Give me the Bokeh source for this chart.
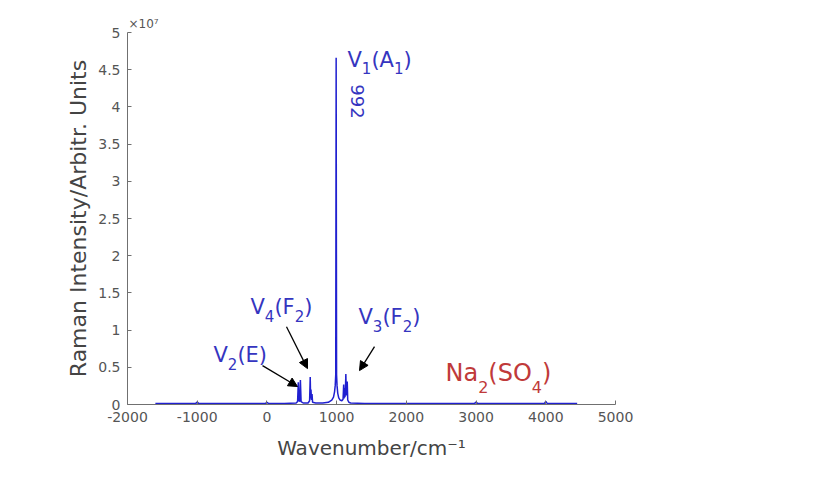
import math
from bokeh.plotting import figure
from bokeh.models import Range1d, FixedTicker, NumeralTickFormatter, Label, Arrow, NormalHead
from bokeh.embed import file_html
from bokeh.resources import INLINE

# ---------------- data (intensity in units of 1e7) ----------------
wavenumber = [-1600, -1300, -1020, -1000, -980, -700, -400, -20, 0, 20, 250,
              420, 440, 450, 458, 470, 480, 490, 520,
              590, 612, 621, 627, 632, 639, 647, 655, 700,
              800, 880, 930, 955, 970, 980, 987, 993, 999, 1006, 1016, 1030, 1050, 1075,
              1092, 1101, 1107, 1113, 1119, 1125, 1132, 1139, 1146, 1152, 1159, 1175, 1200,
              1400, 1800, 2200, 2600, 2980, 3000, 3020, 3400, 3800, 3980, 4000, 4020, 4250, 4450]
intensity = [0.015, 0.015, 0.015, 0.035, 0.015, 0.015, 0.015, 0.015, 0.03, 0.015, 0.015,
             0.02, 0.04, 0.30, 0.05, 0.04, 0.33, 0.04, 0.02,
             0.02, 0.05, 0.37, 0.08, 0.20, 0.06, 0.14, 0.03, 0.02,
             0.02, 0.03, 0.06, 0.10, 0.17, 0.26, 0.40, 4.66, 0.40, 0.25, 0.15, 0.09, 0.06, 0.05,
             0.07, 0.27, 0.08, 0.22, 0.10, 0.16, 0.41, 0.12, 0.22, 0.31, 0.06, 0.03, 0.02,
             0.015, 0.015, 0.015, 0.015, 0.015, 0.035, 0.015, 0.015, 0.015, 0.015, 0.04, 0.015, 0.015, 0.015]

x_ticks = [-2000, -1000, 0, 1000, 2000, 3000, 4000, 5000]
y_ticks = [0, 0.5, 1, 1.5, 2, 2.5, 3, 3.5, 4, 4.5, 5]

# annotation labels: lists of (text, is_subscript) pieces
v1_label = [("V", False), ("1", True), ("(A", False), ("1", True), (")", False)]
v4_label = [("V", False), ("4", True), ("(F", False), ("2", True), (")", False)]
v3_label = [("V", False), ("3", True), ("(F", False), ("2", True), (")", False)]
v2_label = [("V", False), ("2", True), ("(E", False), (")", False)]
peak_main = "992"
sample_label = [("Na", False), ("2", True), ("(SO", False), ("4", True), (")", False)]
exponent_text = "\u00d710\u2077"

# ---------------- figure ----------------
W, H = 804, 462
FL, FT = 127, 32
FR, FB = W - 615, H - 405
X0, X1, Y0, Y1 = -2000, 5000, 0, 5

p = figure(width=W, height=H, x_range=Range1d(X0, X1), y_range=Range1d(Y0, Y1),
           output_backend="svg", toolbar_location=None,
           min_border_left=FL, min_border_right=FR, min_border_top=FT, min_border_bottom=FB)
p.outline_line_color = None
p.grid.visible = False
p.background_fill_color = "white"
p.border_fill_color = "white"

fw = W - FL - FR
fh = H - FT - FB

def px2x(px):
    return X0 + (px - FL) / fw * (X1 - X0)

def px2y(py):
    return Y1 - (py - FT) / fh * (Y1 - Y0)

p.line(wavenumber, intensity, line_color="#2020d0", line_width=1.5)

AX = "#707070"
for ax in (p.xaxis[0], p.yaxis[0]):
    ax.axis_line_color = AX
    ax.major_tick_line_color = AX
    ax.major_tick_in = 4
    ax.major_tick_out = 0
    ax.minor_tick_line_color = None
    ax.major_label_text_font = "DejaVu Sans"
    ax.major_label_text_font_size = "14px"
    ax.major_label_text_color = "#555555"
    ax.axis_label_text_font = "DejaVu Sans"
    ax.axis_label_text_font_style = "normal"
    ax.axis_label_text_color = "#444444"

p.xaxis.axis_label_text_font_size = "20px"
p.yaxis.axis_label_text_font_size = "22px"
p.xaxis.ticker = FixedTicker(ticks=x_ticks)
p.yaxis.ticker = FixedTicker(ticks=y_ticks)
p.xaxis.formatter = NumeralTickFormatter(format="0")
p.yaxis.formatter = NumeralTickFormatter(format="0.[0]")
p.xaxis.major_label_standoff = 7
p.yaxis.major_label_standoff = 7
p.xaxis.axis_label = "Wavenumber/cm\u207b\u00b9"
p.yaxis.axis_label = "Raman Intensity/Arbitr. Units"
p.xaxis.axis_label_standoff = 11
p.yaxis.axis_label_standoff = 4

# exponent as a left-aligned title above the frame
p.title.text = exponent_text
p.title.align = "left"
p.title.offset = 1
p.title.standoff = 4
p.title.text_font = "DejaVu Sans"
p.title.text_font_size = "12px"
p.title.text_font_style = "normal"
p.title.text_color = "#555555"

# DejaVu Sans advance widths (em)
ADV = {"V": .684, "(": .390, ")": .390, "A": .684, "F": .575, "E": .632,
       "N": .748, "a": .613, "S": .635, "O": .787}
def adv(s, size):
    return sum(ADV.get(c, .636) for c in s) * size

def compose(pieces, lx, base, color, main=21, sub=15, drop=8):
    x = lx
    for txt, is_sub in pieces:
        size = sub if is_sub else main
        by = base + (drop if is_sub else 0)
        p.add_layout(Label(x=px2x(x), y=px2y(by), text=txt, text_font="DejaVu Sans",
                           text_font_size=f"{size}px", text_color=color,
                           text_baseline="alphabetic", text_align="left"))
        x += adv(txt, size)

BLUE = "#3535c0"
compose(v1_label, 347, 60, BLUE)
compose(v4_label, 250, 307, BLUE, drop=9)
compose(v3_label, 358, 317, BLUE, drop=9)
compose(v2_label, 213, 355, BLUE, drop=9)
compose(sample_label, 445, 373, "#c03a3a", main=24, sub=16, drop=14)

p.add_layout(Label(x=px2x(357), y=px2y(84), text=peak_main, text_font="DejaVu Sans",
                   text_font_size="18px", text_color=BLUE, angle=-math.pi / 2,
                   text_align="left", text_baseline="middle"))

def arrow(x0, y0, x1, y1):
    p.add_layout(Arrow(end=NormalHead(size=9, fill_color="black", line_color="black"),
                       x_start=px2x(x0), y_start=px2y(y0), x_end=px2x(x1), y_end=px2y(y1),
                       line_color="black", line_width=1.3))

arrow(262, 366, 297, 387)
arrow(286, 327, 307, 369)
arrow(374, 347, 359, 371)

open("out.html", "w").write(file_html(p, INLINE))
